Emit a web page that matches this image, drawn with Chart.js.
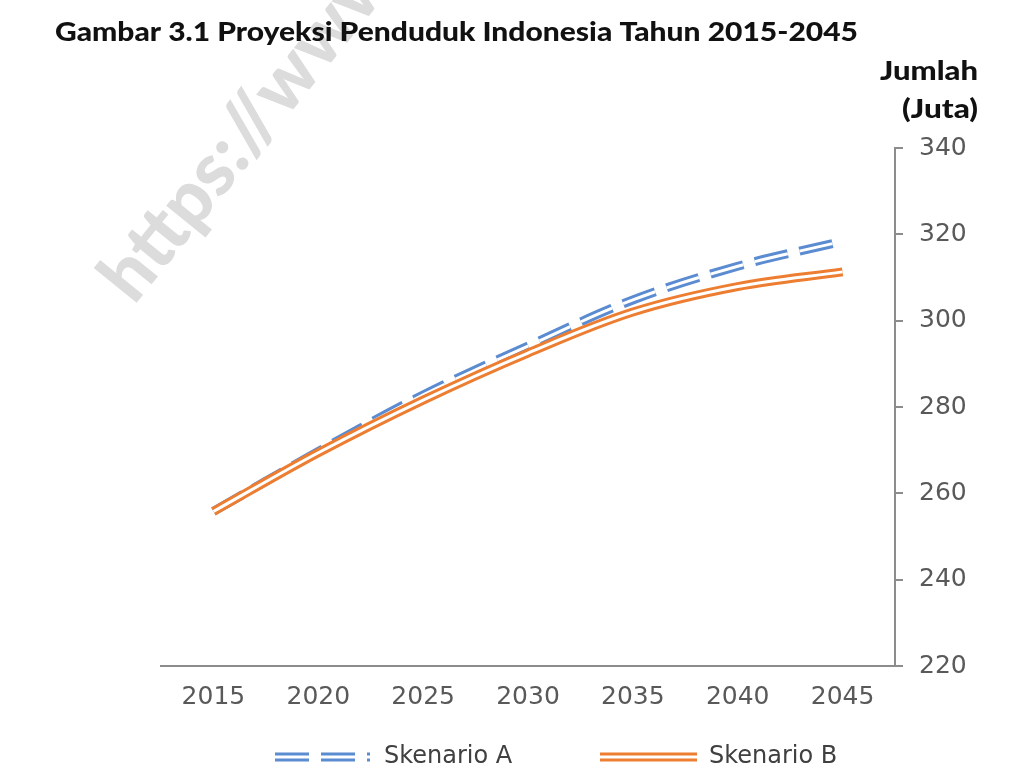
<!DOCTYPE html>
<html>
<head>
<meta charset="utf-8">
<script src="https://cdn.jsdelivr.net/npm/chart.js@4/dist/chart.umd.min.js"></script>
<style>
  html, body { margin: 0; padding: 0; background: #fff; }
  #wrap { width: 1024px; height: 768px; }
</style>
</head>
<body>
<div id="wrap"><canvas id="proyeksi" width="1024" height="768"></canvas></div>
<script>
// data (juta jiwa)
const tahun = ['2015', '2020', '2025', '2030', '2035', '2040', '2045'];
const skenarioA = [255.8, 269.7, 282.8, 294.1, 304.8, 312.6, 318.4];
const skenarioB = [255.8, 269.4, 281.6, 292.5, 302.0, 307.9, 311.3];
const yTicks = [220, 240, 260, 280, 300, 320, 340];

const judul = 'Gambar 3.1 Proyeksi Penduduk Indonesia Tahun 2015-2045';
const satuan = ['Jumlah', '(Juta)'];
const namaSeri = ['Skenario A', 'Skenario B'];

const biru = '#5b8bd0';
const oranye = '#ed7d31';
const abu = '#8c8c8c';
const putus = [34, 12];

// tulis teks dengan lebar tertentu (huruf dilebarkan sedikit)
function tulisLebar(ctx, teks, x, y, lebar, rataKanan) {
  const w = ctx.measureText(teks).width;
  const sx = lebar / w;
  ctx.save();
  ctx.translate(rataKanan ? x - lebar : x, y);
  ctx.scale(sx, 1);
  ctx.textAlign = 'left';
  ctx.fillText(teks, 0, 0);
  ctx.restore();
}

// teks tambahan: watermark, judul, satuan dan legenda
const teksPlugin = {
  id: 'teks',
  beforeDraw(chart) {
    const ctx = chart.ctx;
    ctx.save();
    ctx.fillStyle = '#dcdcdc';
    ctx.font = '900 74px Lato';
    ctx.translate(134, 306);
    ctx.rotate(-51 * Math.PI / 180);
    ctx.textBaseline = 'alphabetic';
    ctx.fillText('https://www.bps.go.id', 0, 0);
    ctx.restore();
  },
  afterDraw(chart) {
    const ctx = chart.ctx;
    ctx.save();
    ctx.fillStyle = '#111';
    ctx.textBaseline = 'alphabetic';
    ctx.font = '900 27px Lato';
    tulisLebar(ctx, judul, 55, 41, 803, false);

    ctx.font = '900 27px Lato';
    tulisLebar(ctx, satuan[0], 978, 80, 98, true);
    tulisLebar(ctx, satuan[1], 978, 118, 76, true);

    // legenda garis ganda
    const y = 757;
    function garisGanda(x1, x2, warna, dash) {
      ctx.setLineDash(dash);
      ctx.lineCap = 'butt';
      ctx.strokeStyle = warna;
      ctx.lineWidth = 9;
      ctx.beginPath(); ctx.moveTo(x1, y); ctx.lineTo(x2, y); ctx.stroke();
      ctx.strokeStyle = '#fff';
      ctx.lineWidth = 3;
      ctx.beginPath(); ctx.moveTo(x1, y); ctx.lineTo(x2, y); ctx.stroke();
      ctx.setLineDash([]);
    }
    garisGanda(275, 370, biru, putus);
    garisGanda(600, 697, oranye, []);

    ctx.fillStyle = '#404040';
    ctx.font = '24px "DejaVu Sans"';
    ctx.textAlign = 'left';
    ctx.textBaseline = 'middle';
    ctx.fillText(namaSeri[0], 384, y);
    ctx.fillText(namaSeri[1], 709, y);
    ctx.restore();
  }
};

const garisDasar = {
  fill: false,
  pointRadius: 0,
  pointHoverRadius: 0,
  tension: 0.35,
  borderCapStyle: 'butt',
  borderJoinStyle: 'round'
};

new Chart(document.getElementById('proyeksi'), {
  type: 'line',
  data: {
    labels: tahun,
    datasets: [
      // lapisan putih di tengah membuat efek garis ganda
      Object.assign({ label: namaSeri[1], data: skenarioB, borderColor: '#fff', borderWidth: 3, order: 0 }, garisDasar),
      Object.assign({ label: namaSeri[1], data: skenarioB, borderColor: oranye, borderWidth: 9, order: 1 }, garisDasar),
      Object.assign({ label: namaSeri[0], data: skenarioA, borderColor: '#fff', borderWidth: 3, borderDash: putus, order: 2 }, garisDasar),
      Object.assign({ label: namaSeri[0], data: skenarioA, borderColor: biru, borderWidth: 9, borderDash: putus, order: 3 }, garisDasar)
    ]
  },
  options: {
    responsive: false,
    animation: false,
    layout: { padding: { left: 161, top: 148, right: 0, bottom: 0 } },
    plugins: {
      legend: { display: false },
      title: { display: false },
      tooltip: { enabled: false }
    },
    scales: {
      x: {
        offset: true,
        grid: { display: false, drawTicks: false, tickLength: 0 },
        border: { display: true, color: abu, width: 2 },
        ticks: {
          color: '#595959',
          font: { family: 'DejaVu Sans', size: 25 },
          padding: 16,
          maxRotation: 0
        },
        afterFit(s) { s.height = 102; }
      },
      y: {
        position: 'right',
        min: 220,
        max: 340,
        afterBuildTicks(s) { s.ticks = yTicks.map(v => ({ value: v })); },
        grid: { drawOnChartArea: false, drawTicks: true, tickLength: 8, color: abu, lineWidth: 2 },
        border: { display: true, color: abu, width: 2 },
        ticks: {
          color: '#595959',
          font: { family: 'DejaVu Sans', size: 25 },
          padding: 16
        },
        afterFit(s) { s.width = 129; }
      }
    }
  },
  plugins: [teksPlugin]
});
</script>
</body>
</html>
